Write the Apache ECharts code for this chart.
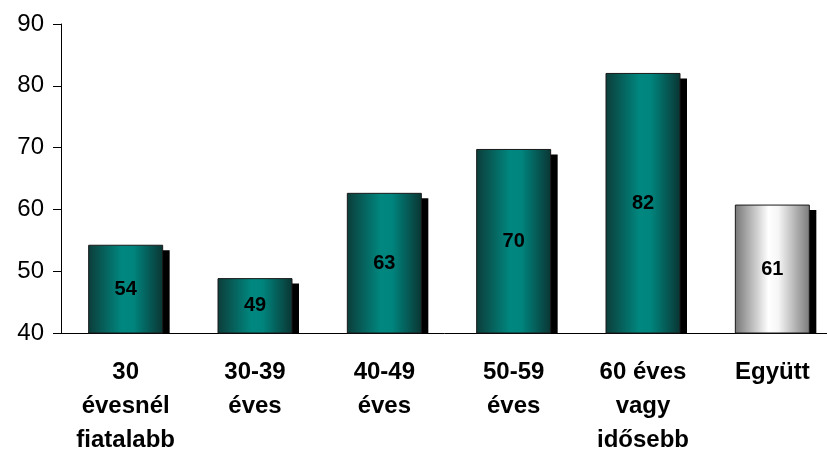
<!DOCTYPE html>
<html><head><meta charset="utf-8">
<script src="https://cdn.jsdelivr.net/npm/echarts@6/dist/echarts.min.js"></script>
<style>html,body{margin:0;padding:0;background:#fff}#c{width:827px;height:450px}</style>
</head><body><div id="c"></div>
<script>
const categories = ['30\névesnél\nfiatalabb', '30-39\néves', '40-49\néves', '50-59\néves', '60 éves\nvagy\nidősebb', 'Együtt'];
const values = [54.2, 48.8, 62.6, 69.7, 82.0, 60.7];
const valueLabels = ['54', '49', '63', '70', '82', '61'];
const yTicks = [40, 50, 60, 70, 80, 90];

const chart = echarts.init(document.getElementById('c'), null, {renderer: 'canvas'});
const teal = new echarts.graphic.LinearGradient(0, 0, 1, 0, [
  {offset: 0, color: '#0c3d3a'}, {offset: 0.45, color: '#00877f'},
  {offset: 0.6, color: '#00857e'}, {offset: 1, color: '#0a3533'}]);
const gray = new echarts.graphic.LinearGradient(0, 0, 1, 0, [
  {offset: 0, color: '#767676'}, {offset: 0.45, color: '#ffffff'},
  {offset: 0.58, color: '#f6f6f6'}, {offset: 1, color: '#7a7a7a'}]);

chart.setOption({
  animation: false,
  grid: {left: 61, top: 24, width: 776, height: 309, containLabel: false, outerBoundsMode: 'none'},
  xAxis: {
    type: 'category', data: categories,
    axisLine: {lineStyle: {color: '#000', width: 1}},
    axisTick: {length: 7, lineStyle: {color: '#000'}},
    axisLabel: {color: '#000', fontFamily: 'Liberation Sans, Arial', fontWeight: 'bold', fontSize: 24, lineHeight: 34, margin: 22, interval: 0}
  },
  yAxis: {
    type: 'value', min: yTicks[0], max: yTicks[yTicks.length - 1], interval: 10,
    splitLine: {show: false},
    axisLine: {show: true, lineStyle: {color: '#000', width: 1}},
    axisTick: {show: true, length: 8, lineStyle: {color: '#000'}},
    axisLabel: {color: '#000', fontFamily: 'Liberation Sans, Arial', fontSize: 24, margin: 17}
  },
  series: [{
    type: 'custom',
    data: values.map((v, i) => [i, v]),
    renderItem: function (params, api) {
      const i = api.value(0);
      const top = api.coord([i, api.value(1)]);
      const base = api.coord([i, yTicks[0]]);
      const bw = 74;
      const x0 = top[0] - bw / 2;
      const h = base[1] - top[1];
      return {
        type: 'group',
        children: [
          {type: 'rect', shape: {x: x0 + 7, y: top[1] + 5, width: bw, height: h - 5}, style: {fill: '#000'}},
          {type: 'rect', shape: {x: x0, y: top[1], width: bw, height: h},
           style: {fill: i === 5 ? gray : teal, stroke: '#1a1a1a', lineWidth: 1}},
          {type: 'text', x: top[0], y: top[1] + h / 2,
           style: {text: valueLabels[i], fill: '#000', font: 'bold 20px "Liberation Sans", Arial', align: 'center', verticalAlign: 'middle'}}
        ]
      };
    }
  }]
});
</script></body></html>
